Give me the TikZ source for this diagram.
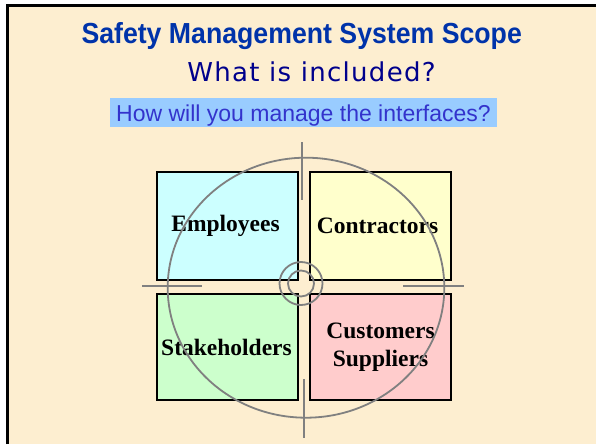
\documentclass[tikz,border=0pt]{standalone}
\usepackage{fontspec}
\setmainfont{Liberation Serif}
\newfontfamily\headfont[FakeStretch=0.92]{Liberation Sans}
\newfontfamily\askfont[LetterSpace=5]{DejaVu Sans}
\newfontfamily\notefont{Liberation Sans}

\definecolor{slidebg}{RGB}{253,238,208}
\definecolor{titleblue}{RGB}{0,51,170}
\definecolor{asknavy}{RGB}{0,0,140}
\definecolor{notefill}{RGB}{153,204,255}
\definecolor{notetext}{RGB}{51,51,204}
\definecolor{empfill}{RGB}{204,255,255}
\definecolor{confill}{RGB}{255,255,204}
\definecolor{stkfill}{RGB}{204,255,204}
\definecolor{cusfill}{RGB}{255,204,204}
\definecolor{ringgray}{RGB}{128,128,128}

\tikzset{
  quad/.style={draw=black, line width=2, inner sep=0pt,
    minimum width=141pt, font=\bfseries\fontsize{23.5}{27.7}\selectfont,
    align=center},
  ring/.style={draw=ringgray, line width=1.8},
}

\begin{document}
\begin{tikzpicture}[x=1pt,y=-1pt]
  \useasboundingbox (0,0) rectangle (596,444);
  \fill[white] (0,0) rectangle (596,444);
  % slide background and its frame
  \fill[slidebg] (7.5,5.5) rectangle (596,444);
  \draw[line width=3] (7.5,444) -- (7.5,5.5) -- (596,5.5);

  % headings
  \node[font=\headfont\bfseries\fontsize{29}{33}\selectfont, text=titleblue,
        anchor=base, inner sep=0pt] (title) at (301.7,43.3)
        {Safety Management System Scope};
  \node[font=\askfont\fontsize{26}{30}\selectfont, text=asknavy,
        anchor=base, inner sep=0pt] (subtitle) at (311.5,81.7)
        {What is included?};
  \node[fill=notefill, text=notetext, font=\notefont\fontsize{23}{27}\selectfont,
        inner sep=0pt, text height=23.4pt, text depth=5.6pt,
        minimum width=387pt, anchor=base] (note) at (303.5,121.7)
        {How will you manage the interfaces?};

  % the four groups
  \node[quad, fill=empfill, minimum height=108pt] (emp) at (227.5,226) {Employees\hspace*{4pt}};
  \node[quad, fill=confill, minimum height=108pt] (con) at (380.5,226) {Contractors\hspace*{6pt}};
  \node[quad, fill=stkfill, minimum height=106pt] (stk) at (227.5,347) {Stakeholders\hspace*{2pt}};
  \node[quad, fill=cusfill, minimum height=106pt] (cus) at (380.5,347) {Customers\\Suppliers};

  % crosshair target over the groups
  \draw[ring] (306,287.7) ellipse [x radius=138.3pt, y radius=130pt];
  \draw[ring] (301,283.5) circle [radius=21.5pt];
  \draw[ring] (301,283.5) circle [radius=13pt];
  \coordinate (tA) at (302,142);   \coordinate (tB) at (302,200);
  \coordinate (bA) at (303.7,379); \coordinate (bB) at (303.7,438);
  \coordinate (lA) at (142,285.7); \coordinate (lB) at (202,285.7);
  \coordinate (rA) at (403,285.7); \coordinate (rB) at (464,285.7);
  \draw[ring] (tA) -- (tB);
  \draw[ring] (bA) -- (bB);
  \draw[ring] (lA) -- (lB);
  \draw[ring] (rA) -- (rB);
\end{tikzpicture}
\end{document}
